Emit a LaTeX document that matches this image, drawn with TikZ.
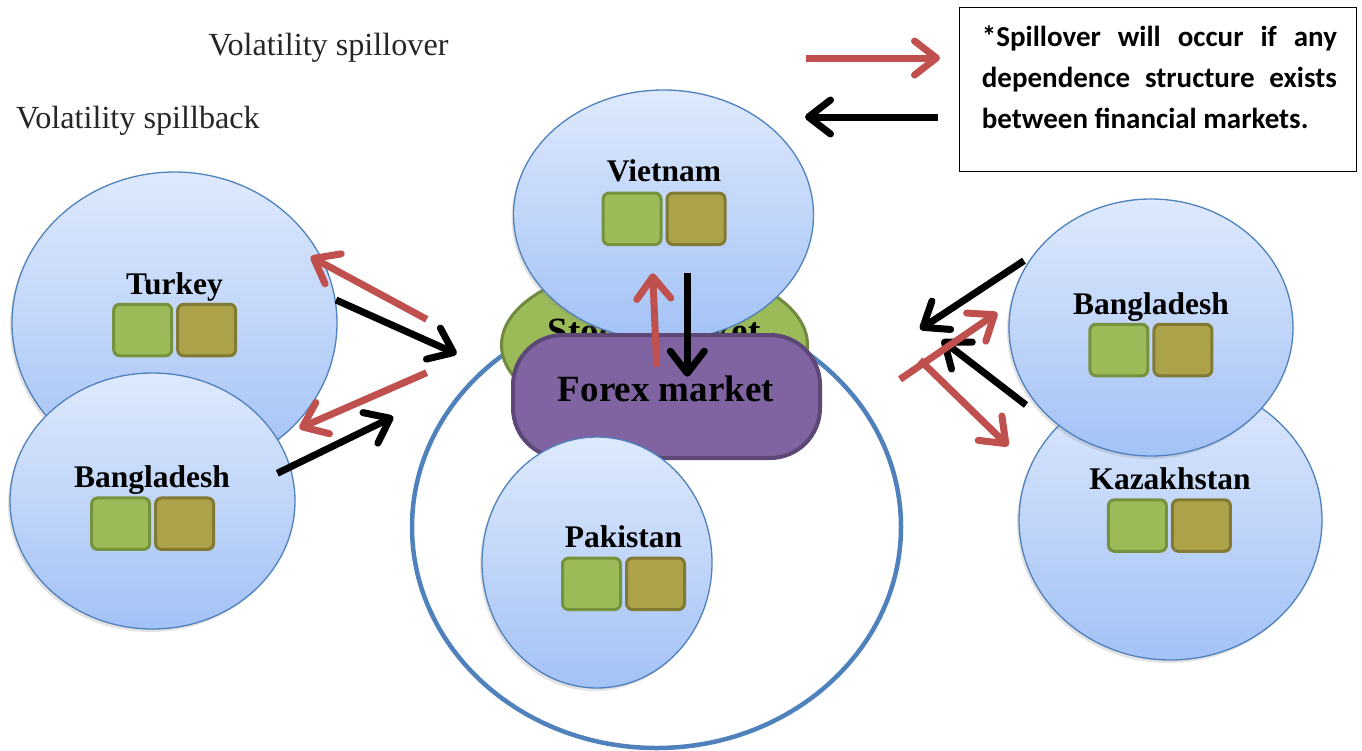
\documentclass[tikz,border=0pt]{standalone}
\usepackage{fontspec}
\setmainfont{Liberation Serif}
\newfontfamily\calib{Carlito}
\usetikzlibrary{shapes.geometric,arrows.meta,shadows}
\definecolor{bline}{RGB}{79,129,189}
\definecolor{btop}{RGB}{222,233,252}
\definecolor{bbot}{RGB}{163,194,246}
\definecolor{sqgf}{RGB}{155,187,89}
\definecolor{sqgb}{RGB}{118,146,60}
\definecolor{sqof}{RGB}{172,162,74}
\definecolor{sqob}{RGB}{130,121,50}
\definecolor{redar}{RGB}{192,80,77}
\definecolor{fxfill}{RGB}{128,100,162}
\definecolor{fxline}{RGB}{92,71,118}
\definecolor{stfill}{RGB}{155,187,89}
\definecolor{stline}{RGB}{113,137,63}
\definecolor{txtgray}{RGB}{38,38,38}
\tikzset{
  country/.style={ellipse, draw=bline, line width=1.3pt, top color=btop, bottom color=bbot,
    inner sep=0pt, drop shadow={opacity=0.22, shadow xshift=-2pt, shadow yshift=-3pt}},
  lab/.style={font=\fontsize{31.5}{36}\selectfont\bfseries, anchor=base, inner sep=0pt},
  biglab/.style={font=\fontsize{37}{40}\selectfont\bfseries, anchor=base, inner sep=0pt},
  sqgreen/.style={rectangle, rounded corners=6pt, draw=sqgb, fill=sqgf, line width=3pt,
    minimum width=58pt, minimum height=51.5pt, inner sep=0pt},
  sqolive/.style={sqgreen, draw=sqob, fill=sqof},
  arrbase/.style={line width=7pt, -{Straight Barb[length=22pt, width=34pt, round]}},
  redarrow/.style={arrbase, draw=redar},
  blkarrow/.style={arrbase, draw=black},
  voltxt/.style={font=\fontsize{32.2}{36}\selectfont, text=txtgray, anchor=base west, inner sep=0pt},
  legline/.style={font=\calib\bfseries\fontsize{29}{36}\selectfont, anchor=base west, inner sep=0pt}
}
\newcommand\sqpair[3]{%
  \node[sqgreen] (#1g) at (#2-32,#3) {};
  \node[sqolive] (#1o) at (#2+32,#3) {};}
\begin{document}
\begin{tikzpicture}[x=1pt,y=-1pt]
\useasboundingbox (0,0) rectangle (1362,750);
% central market circle
\node[ellipse, draw=bline, line width=4.5pt, fill=white, minimum width=489pt, minimum height=442pt, inner sep=0pt] (big) at (656.5,527) {};
% stock market
\node[ellipse, draw=stline, line width=3pt, fill=stfill, minimum width=306pt, minimum height=160pt, inner sep=0pt] (stock) at (654.5,345) {};
\node[biglab] (stocktxt) at (654,343) {Stock market};
% Vietnam
\node[country, minimum width=300pt, minimum height=250pt] (viet) at (663.5,215) {};
\node[lab] (viettxt) at (664,181.7) {Vietnam};
\sqpair{viet}{664}{218.8}
% forex
\node[rectangle, rounded corners=50pt, draw=fxline, line width=4pt, fill=fxfill, minimum width=307pt, minimum height=123pt, inner sep=0pt] (forex) at (666.5,396.5) {};
\node[biglab] (forextxt) at (666,401.7) {Forex market};
% Pakistan
\node[country, minimum width=230pt, minimum height=251pt] (pak) at (597,562.5) {};
\node[lab] (paktxt) at (623.5,547.7) {Pakistan};
\sqpair{pak}{623.5}{583.8}
% left
\node[country, minimum width=325pt, minimum height=302pt] (turk) at (174.5,323) {};
\node[lab] (turktxt) at (174.5,294) {Turkey};
\sqpair{turk}{174.7}{330}
\node[country, minimum width=285pt, minimum height=256pt] (lbang) at (152.5,501) {};
\node[lab] (lbangtxt) at (152,487) {Bangladesh};
\sqpair{lbang}{152.6}{523.7}
% right
\node[country, minimum width=303pt, minimum height=280pt] (kaz) at (1170.5,520) {};
\node[lab] (kaztxt) at (1170,489.3) {Kazakhstan};
\sqpair{kaz}{1169.4}{525.5}
\node[country, minimum width=284pt, minimum height=257pt] (rbang) at (1151,327.5) {};
\node[lab] (rbangtxt) at (1151,314) {Bangladesh};
\sqpair{rbang}{1150.9}{350}
% titles
\node[voltxt] (spillover) at (208.3,55) {Volatility spillover};
\node[voltxt] (spillback) at (16,128.3) {Volatility spillback};
% arrow end points
\coordinate (t1s) at (426.7,319.3); \coordinate (t1e) at (310.7,256.7);
\coordinate (t2s) at (336,300);     \coordinate (t2e) at (456.7,354);
\coordinate (b1s) at (426.7,372.7); \coordinate (b1e) at (299.3,428.3);
\coordinate (b2s) at (277.3,473.3); \coordinate (b2e) at (393.3,416.7);
\coordinate (v1s) at (656.7,366.7); \coordinate (v1e) at (652.7,273.3);
\coordinate (v2s) at (687.3,272.7); \coordinate (v2e) at (687.3,376.7);
\coordinate (r1s) at (1024,260.7);  \coordinate (r1e) at (920,329.3);
\coordinate (r2s) at (900,379.3);   \coordinate (r2e) at (997.3,312.7);
\coordinate (r3s) at (1026,405);    \coordinate (r3e) at (941.7,340);
\coordinate (r4s) at (920,360);     \coordinate (r4e) at (1008.3,446);
\coordinate (l1s) at (806,58);      \coordinate (l1e) at (940,58);
\coordinate (l2s) at (938,117);     \coordinate (l2e) at (805,117);
\draw[redarrow] (t1s) -- (t1e);
\draw[blkarrow] (t2s) -- (t2e);
\draw[redarrow] (b1s) -- (b1e);
\draw[blkarrow] (b2s) -- (b2e);
\draw[redarrow] (v1s) -- (v1e);
\draw[blkarrow] (v2s) -- (v2e);
\draw[blkarrow] (r1s) -- (r1e);
\draw[blkarrow] (r3s) -- (r3e);
\draw[redarrow] (r2s) -- (r2e);
\draw[redarrow] (r4s) -- (r4e);
\draw[redarrow] (l1s) -- (l1e);
\draw[blkarrow] (l2s) -- (l2e);
% legend box
\node[draw=black, line width=1.3pt, fill=white, minimum width=397.5pt, minimum height=164.5pt, inner sep=0pt] (legend) at (1158,89.5) {};
\node[legline] (leg1) at (981.7,46.7) {\makebox[355pt][s]{*Spillover will occur if any}};
\node[legline] (leg2) at (981.7,87.3) {\makebox[355pt][s]{dependence structure exists}};
\node[legline] (leg3) at (981.7,128.3) {between financial markets.};
\end{tikzpicture}
\end{document}
